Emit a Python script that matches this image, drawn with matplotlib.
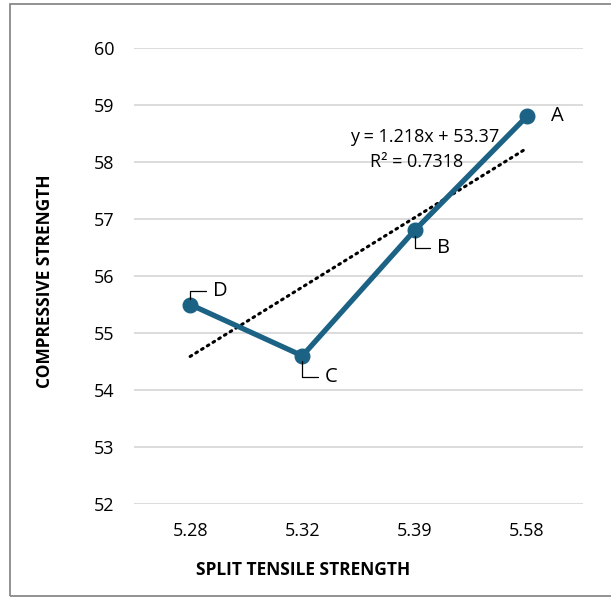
import matplotlib
matplotlib.use("Agg")
import matplotlib.pyplot as plt
from matplotlib.patches import Rectangle
import numpy as np

categories = ["5.28", "5.32", "5.39", "5.58"]
values = [55.5, 54.6, 56.8, 58.8]
point_labels = ["D", "C", "B", "A"]
trend_slope = 1.218
trend_intercept = 53.37
eq_text = "y = 1.218x + 53.37"
r2_text = "R² = 0.7318"
y_ticks = [52, 53, 54, 55, 56, 57, 58, 59, 60]

plt.rcParams['font.family'] = ['Open Sans', 'DejaVu Sans']

W, H = 611, 597
fig = plt.figure(figsize=(W / 100, H / 100), dpi=100)
ax = fig.add_axes([134 / W, (H - 504) / H, 449 / W, 456 / H])

color = "#1B6285"
xs = np.arange(1, len(categories) + 1)

ax.set_xlim(0.5, len(categories) + 0.5)
ax.set_ylim(52, 60)
ax.set_yticks(y_ticks)
ax.set_xticks(xs)
ax.set_xticklabels(categories)
ax.grid(axis='y', color='#D9D9D9', linewidth=1.3)
ax.set_axisbelow(True)
for s in ax.spines.values():
    s.set_visible(False)
ax.tick_params(length=0, labelsize=13, colors='#000000')
ax.tick_params(axis='y', pad=14)
ax.tick_params(axis='x', pad=13)

# trendline
tx = np.array([xs[0], xs[-1]], dtype=float)
ax.plot(tx, trend_slope * tx + trend_intercept, linestyle=(0, (0.6, 1.6)),
        color='black', linewidth=2.2, dash_capstyle='round', zorder=2)

ax.plot(xs, values, color=color, linewidth=3.8, marker='o', markersize=10.5,
        zorder=3, solid_capstyle='round')

# labels
offsets = {"D": (22, 10, True), "C": (21, -15, True), "B": (21, -13, True), "A": (22, 0, False)}
for x, v, lab in zip(xs, values, point_labels):
    dx, dy, leader = offsets[lab]
    if leader:
        ax.annotate(lab, xy=(x, v), xytext=(dx, dy), textcoords='offset points',
                    ha='center', va='center', fontsize=14.5,
                    arrowprops=dict(arrowstyle='-', color='black', lw=0.9,
                                    connectionstyle='angle,angleA=0,angleB=90,rad=0',
                                    relpos=(0, 0.5), shrinkA=3, shrinkB=4))
    else:
        ax.annotate(lab, xy=(x, v), xytext=(dx, dy), textcoords='offset points',
                    ha='center', va='center', fontsize=14.5)

ax.text(3.085, 58.44, eq_text, ha='center', va='center', fontsize=13)
ax.text(3.013, 58.0, r2_text, ha='center', va='center', fontsize=13)

fig.text(303 / W, 1 - 570 / H, "SPLIT TENSILE STRENGTH", ha='center', va='center',
         fontsize=12.5, fontweight='bold')
fig.text(45 / W, 1 - 281 / H, "COMPRESSIVE STRENGTH", ha='center', va='center',
         fontsize=12.5, fontweight='bold', rotation=90)

fig.patches.append(Rectangle((10 / W, 1 - 596 / H), 700 / W, 592 / H,
                             transform=fig.transFigure, fill=False,
                             edgecolor='#7F7F7F', linewidth=1.2))

fig.savefig("out.png", dpi=100)
